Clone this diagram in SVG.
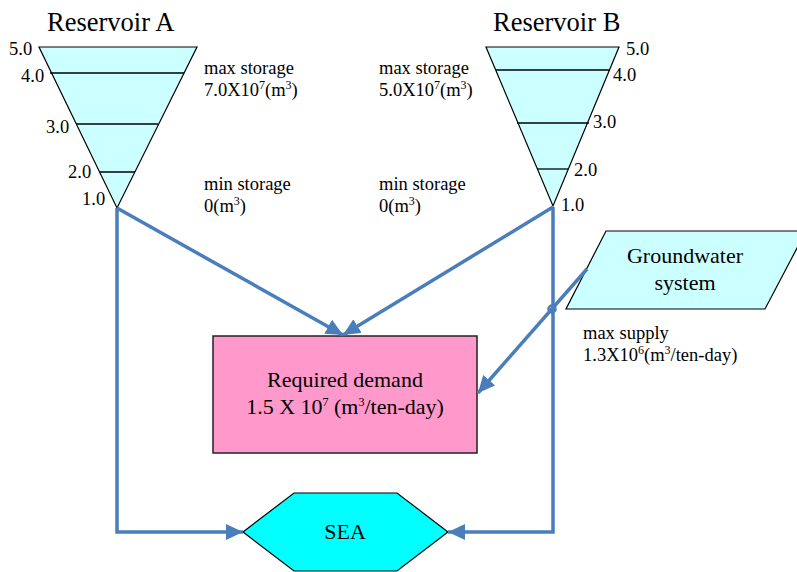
<svg xmlns="http://www.w3.org/2000/svg" width="797" height="572" viewBox="0 0 797 572">
<style>
text{font-family:"Liberation Serif","Times New Roman",serif;fill:#000}
.title{font-size:26.5px}
.lbl{font-size:18.5px}
.note{font-size:18.5px}
.sup{font-size:12px}
.node{font-size:22px;text-anchor:middle}
.res{fill:#ccffff;stroke:#000;stroke-width:1.2}
.lvl{stroke:#000;stroke-width:1.3}
.conn{fill:none;stroke:#4a7ebb;stroke-width:3.5;stroke-linejoin:miter}
</style>
<defs>
<marker id="arr" markerUnits="userSpaceOnUse" markerWidth="18" markerHeight="18" refX="17" refY="8" orient="auto">
<path d="M0,0 L17,8 L0,16 z" fill="#4a7ebb"/>
</marker>
</defs>

<g id="reservoirA">
<text class="title" x="47" y="31">Reservoir A</text>
<polygon class="res" points="39,47 197,47 117,208"/>
<line class="lvl" x1="50" y1="73" x2="184" y2="73"/>
<line class="lvl" x1="76" y1="124" x2="158" y2="124"/>
<line class="lvl" x1="100" y1="172" x2="135" y2="172"/>
<text class="lbl" x="9" y="55">5.0</text>
<text class="lbl" x="21" y="82">4.0</text>
<text class="lbl" x="46" y="133">3.0</text>
<text class="lbl" x="68" y="178">2.0</text>
<text class="lbl" x="82" y="205">1.0</text>
<text class="note" x="204" y="74">max storage</text>
<text class="note" x="204" y="96">7.0X10<tspan class="sup" dy="-7">7</tspan><tspan dy="7">(m</tspan><tspan class="sup" dy="-7">3</tspan><tspan dy="7">)</tspan></text>
<text class="note" x="204" y="190">min storage</text>
<text class="note" x="204" y="212">0(m<tspan class="sup" dy="-7">3</tspan><tspan dy="7">)</tspan></text>
</g>

<g id="reservoirB">
<text class="title" x="493" y="31">Reservoir B</text>
<polygon class="res" points="486,47 619,47 553,206"/>
<line class="lvl" x1="496" y1="70" x2="610" y2="70"/>
<line class="lvl" x1="517" y1="123" x2="589" y2="123"/>
<line class="lvl" x1="537" y1="169" x2="568" y2="169"/>
<text class="lbl" x="626" y="55">5.0</text>
<text class="lbl" x="613" y="81">4.0</text>
<text class="lbl" x="593" y="128">3.0</text>
<text class="lbl" x="574" y="176">2.0</text>
<text class="lbl" x="561" y="211">1.0</text>
<text class="note" x="379" y="74">max storage</text>
<text class="note" x="379" y="96">5.0X10<tspan class="sup" dy="-7">7</tspan><tspan dy="7">(m</tspan><tspan class="sup" dy="-7">3</tspan><tspan dy="7">)</tspan></text>
<text class="note" x="379" y="190">min storage</text>
<text class="note" x="379" y="212">0(m<tspan class="sup" dy="-7">3</tspan><tspan dy="7">)</tspan></text>
</g>

<g id="groundwater">
<polygon points="606,231 806,231 765,309 566,309" fill="#ccffff" stroke="#000" stroke-width="1.2"/>
<text class="node" x="685" y="263">Groundwater</text>
<text class="node" x="685" y="290">system</text>
<text class="note" x="583" y="339">max supply</text>
<text class="note" x="583" y="361">1.3X10<tspan class="sup" dy="-7">6</tspan><tspan dy="7">(m</tspan><tspan class="sup" dy="-7">3</tspan><tspan dy="7">/ten-day)</tspan></text>
</g>

<g id="demand">
<rect x="213" y="336" width="264" height="117" fill="#ff99cc" stroke="#222" stroke-width="1.5"/>
<text class="node" x="345" y="387">Required demand</text>
<text class="node" x="345" y="414">1.5 X 10<tspan class="sup" dy="-8">7</tspan><tspan dy="8"> (m</tspan><tspan class="sup" dy="-8">3</tspan><tspan dy="8">/ten-day)</tspan></text>
</g>

<g id="sea">
<polygon points="243,532 294,493 397,493 448,532 397,571 294,571" fill="#00ffff" stroke="#000" stroke-width="1.2"/>
<text class="node" x="345" y="539">SEA</text>
</g>

<g id="connectors">
<polyline class="conn" points="117,208 117,532 243,532" marker-end="url(#arr)"/>
<polyline class="conn" points="553,207 553,532 448,532" marker-end="url(#arr)"/>
<line class="conn" x1="117" y1="208" x2="343" y2="335" marker-end="url(#arr)"/>
<line class="conn" x1="553" y1="207" x2="343" y2="335" marker-end="url(#arr)"/>
<line class="conn" x1="587" y1="269" x2="478" y2="393" marker-end="url(#arr)"/>
<circle cx="552" cy="309" r="3.5" fill="none" stroke="#4a7ebb" stroke-width="2.5"/>
</g>
</svg>
